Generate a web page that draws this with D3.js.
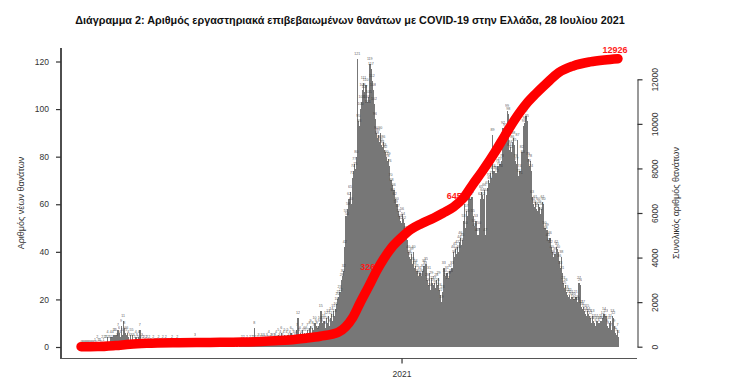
<!DOCTYPE html>
<html>
<head>
<meta charset="utf-8">
<script src="https://cdn.jsdelivr.net/npm/d3@7"></script>
<style>
  body { margin: 0; background: #fff; }
  svg { display: block; }
  text { font-family: "Liberation Sans", Arial, sans-serif; }
</style>
</head>
<body>
<script>
'use strict'

// daily deaths, one array per month (first day 2020-02-28)
const firstDay = '2020-02-28'
const d2020_02 = [0, 0]
const d2020_03 = [0,0,0,0,0,0,0,0,0,0,0,1,0,2,1,1,1,0,2,1,2,2,2,4,2,2,4,2,4,5,5]
const d2020_04 = [5,3,7,6,4,9,5,11,8,6,5,6,4,3,5,3,5,3,2,4,3,2,4,7,2,3,2,2,1,2]
const d2020_05 = [2,1,2,1,1,0,2,1,1,1,1,2,1,1,1,2,0,1,2,1,1,1,0,1,2,1,0,1,1,2,1]
const d2020_06 = [1,0,1,0,1,0,1,0,0,1,0,1,1,0,0,3,0,1,0,1,0,0,1,1,0,1,0,0,1,1]
const d2020_07 = [0,1,0,0,1,0,1,0,1,0,0,1,0,1,0,0,1,0,1,0,1,0,1,1,0,1,0,0,1,1,2]
const d2020_08 = [1,2,1,0,2,1,1,2,1,2,2,8,2,1,2,3,1,2,3,2,3,2,1,3,2,4,2,3,3,1,3]
const d2020_09 = [3,4,2,5,3,4,6,3,4,5,2,4,5,3,4,6,3,5,4,3,4,7,12,5,6,4,7,5,6,5]
const d2020_10 = [6,7,5,8,9,6,8,7,10,9,8,6,9,10,15,9,10,11,8,12,10,13,9,12,14,11,15,13,16,18,20]
const d2020_11 = [21,23,22,28,30,32,42,55,54,58,62,65,60,71,74,77,75,80,121,95,93,100,103,108,111,107,110,103,101,105]
const d2020_12 = [119,117,112,108,102,96,90,88,89,86,90,85,84,86,83,82,80,78,79,76,70,68,64,66,62,59,60,57,55,53,52]
const d2021_01 = [56,54,52,48,46,45,40,38,37,39,35,40,33,34,32,30,29,31,28,30,32,34,33,35,28,26,31,24,29,27,26]
const d2021_02 = [27,25,28,26,29,24,22,19,23,33,30,28,31,27,29,32,30,33,40,38,41,39,42,40,44,46,43,45]
const d2021_03 = [53,60,50,57,55,63,60,62,63,55,51,49,53,47,47,50,62,65,64,62,66,47,64,67,70,69,73,71,89,74,73]
const d2021_04 = [73,72,76,75,77,74,78,92,88,91,90,99,98,83,84,82,86,88,85,78,77,87,72,74,71,82,80,93,94,97]
const d2021_05 = [95,79,76,78,74,63,60,59,61,58,57,60,59,56,58,61,60,50,48,49,45,43,46,42,40,38,37,39,42,41,40]
const d2021_06 = [36,33,38,31,27,25,26,23,22,21,22,20,21,19,20,18,21,19,18,27,26,17,16,17,15,14,13,15,14,13]
const d2021_07 = [12,10,13,11,10,9,11,10,9,10,11,10,12,14,11,13,9,8,10,11,7,13,12,9,6,5,7,4]

// total deaths
const totalDates = ['2020-02-28','2020-03-15','2020-04-01','2020-04-15','2020-05-01','2020-06-01','2020-07-01',
  '2020-08-01','2020-09-01','2020-09-15','2020-10-01','2020-10-15','2020-11-01','2020-11-08','2020-11-15',
  '2020-11-22','2020-12-01','2020-12-08','2020-12-15','2020-12-22','2021-01-01','2021-01-10','2021-01-20',
  '2021-02-01','2021-02-10','2021-02-20','2021-03-01','2021-03-10','2021-03-20','2021-04-01','2021-04-10',
  '2021-04-20','2021-05-01','2021-05-10','2021-05-20','2021-06-01','2021-06-15','2021-07-01','2021-07-15','2021-07-28']
const totalValues = [0, 4, 50, 110, 150, 180, 192, 206, 266, 300, 380, 470, 640, 880, 1300,
  1950, 2750, 3400, 3950, 4420, 4900, 5260, 5520, 5780, 6000, 6270, 6650, 7250, 7900, 8750, 9450,
  10200, 10900, 11350, 11800, 12300, 12600, 12780, 12870, 12926]

// labelled points on the total curve
const totalLabelDates = ['2020-12-02', '2021-02-23', '2021-07-28']
const totalLabelValues = [3263, 6458, 12926]

const leftTicks = [0, 20, 40, 60, 80, 100, 120]
const rightTicks = [0, 2000, 4000, 6000, 8000, 10000, 12000]
const xTicks = ['2021-01-01']

const title = 'Διάγραμμα 2: Αριθμός εργαστηριακά επιβεβαιωμένων θανάτων με COVID-19 στην Ελλάδα, 28 Ιουλίου 2021'
const leftTitle = 'Αριθμός νέων θανάτων'
const rightTitle = 'Συνολικός αριθμός θανάτων'

//////////////////////////////////////////////////////////////////////

const parse = d3.utcParse('%Y-%m-%d')
const daily = [].concat(d2020_02, d2020_03, d2020_04, d2020_05, d2020_06, d2020_07, d2020_08, d2020_09,
  d2020_10, d2020_11, d2020_12, d2021_01, d2021_02, d2021_03, d2021_04, d2021_05, d2021_06, d2021_07)
const start = parse(firstDay)
const bars = daily.map((v, i) => ({ date: d3.utcDay.offset(start, i), value: v }))
const totals = totalDates.map((d, i) => ({ date: parse(d), value: totalValues[i] }))
const totalLabels = totalLabelDates.map((d, i) => ({ date: parse(d), value: totalLabelValues[i] }))

const svg = d3.select('body').append('svg').attr('width', 734).attr('height', 386)

const x = d3.scaleUtc()
  .domain([parse('2020-02-27'), parse('2021-07-29')])
  .range([80, 619])
const yL = d3.scaleLinear().domain([0, 120]).range([347, 61.5])
const yR = d3.scaleLinear().domain([0, 12000]).range([346.7, 79.3])

// bars; crisp edges + small overlap, otherwise AA seams show as stripes
svg.append('g')
  .attr('shape-rendering', 'crispEdges')
  .selectAll('rect')
  .data(bars)
  .enter()
  .append('rect')
  .attr('x', d => x(d.date))
  .attr('width', d => x(d3.utcDay.offset(d.date, 1)) - x(d.date) + 0.4)
  .attr('y', d => yL(d.value))
  .attr('height', d => yL(0) - yL(d.value))
  .style('fill', '#777777')

// tiny value labels on top of each bar
svg.append('g')
  .selectAll('text')
  .data(bars)
  .enter()
  .append('text')
  .attr('x', d => x(d.date) + 0.5)
  .attr('y', d => yL(d.value) - 4)
  .attr('text-anchor', 'middle')
  .style('font-size', '3.6px')
  .style('fill', '#333')
  .style('opacity', 0.8)
  .text(d => d.value)

// red labels (drawn under the curve, as in the original)
svg.append('g')
  .selectAll('text')
  .data(totalLabels.slice(0, 2))
  .enter()
  .append('text')
  .attr('x', d => x(d.date))
  .attr('y', d => yR(d.value) - 4)
  .attr('text-anchor', 'middle')
  .style('font-size', '9px')
  .style('font-weight', 'bold')
  .style('fill', '#ff1a1a')
  .text(d => d.value)

// total curve
const line = d3.line()
  .x(d => x(d.date))
  .y(d => yR(d.value))
  .curve(d3.curveMonotoneX)

svg.append('path')
  .datum(totals)
  .attr('d', line)
  .style('fill', 'none')
  .style('stroke', '#ff0000')
  .style('stroke-width', 9.5)
  .style('stroke-linecap', 'round')
  .style('stroke-linejoin', 'round')

const last = totalLabels[2]
svg.append('text')
  .attr('x', x(last.date) - 3)
  .attr('y', yR(last.value) - 6)
  .attr('text-anchor', 'middle')
  .style('font-size', '9px')
  .style('font-weight', 'bold')
  .style('fill', '#ff1a1a')
  .text(last.value)

// frame lines (left and bottom)
svg.append('line').attr('x1', 61).attr('x2', 61).attr('y1', 48).attr('y2', 358.5)
  .style('stroke', '#3a3a3a').style('stroke-width', 1.8)
svg.append('line').attr('x1', 60).attr('x2', 637).attr('y1', 358.5).attr('y2', 358.5)
  .style('stroke', '#555').style('stroke-width', 1.2)

// left axis
const gL = svg.append('g')
  .attr('transform', 'translate(61,0)')
  .call(d3.axisLeft(yL).tickValues(leftTicks).tickSize(5).tickSizeOuter(0))
gL.select('.domain').remove()
gL.selectAll('line').style('stroke', '#333').style('stroke-width', 1.2)
gL.selectAll('text').attr('x', -12).style('font-size', '8.5px').style('fill', '#333')

// right axis
const gR = svg.append('g')
  .attr('transform', 'translate(637.5,0)')
  .call(d3.axisRight(yR).tickValues(rightTicks).tickFormat(d3.format('d')).tickSize(5).tickSizeOuter(0))
gR.select('.domain').style('stroke', '#555').style('stroke-width', 1.2)
gR.selectAll('line').style('stroke', '#333').style('stroke-width', 1.2)
gR.selectAll('text')
  .attr('x', 0).attr('y', 0).attr('dy', '0.35em')
  .attr('text-anchor', 'middle')
  .attr('transform', 'translate(18,0) rotate(-90)')
  .style('font-size', '8.5px').style('fill', '#333')

// bottom axis
const gB = svg.append('g')
  .attr('transform', 'translate(0,358.5)')
  .call(d3.axisBottom(x).tickValues(xTicks.map(parse)).tickFormat(d3.utcFormat('%Y')).tickSize(5))
gB.select('.domain').remove()
gB.selectAll('line').style('stroke', '#333').style('stroke-width', 1.2)
gB.selectAll('text').attr('y', 12).style('font-size', '8.5px').style('fill', '#333')

// axis titles
svg.append('text')
  .attr('transform', 'translate(24,203) rotate(-90)')
  .attr('text-anchor', 'middle')
  .style('font-size', '9px').style('fill', '#333')
  .text(leftTitle)
svg.append('text')
  .attr('transform', 'translate(679,203) rotate(-90)')
  .attr('text-anchor', 'middle')
  .style('font-size', '9px').style('fill', '#333')
  .text(rightTitle)

// title, fitted to the width it has in the original
const t = svg.append('text')
  .attr('x', 350).attr('y', 24)
  .attr('text-anchor', 'middle')
  .style('font-size', '11px').style('font-weight', 'bold').style('fill', '#111')
  .text(title)
const tw = t.node().getComputedTextLength()
t.style('font-size', (11 * 550 / tw) + 'px')
</script>
</body>
</html>
